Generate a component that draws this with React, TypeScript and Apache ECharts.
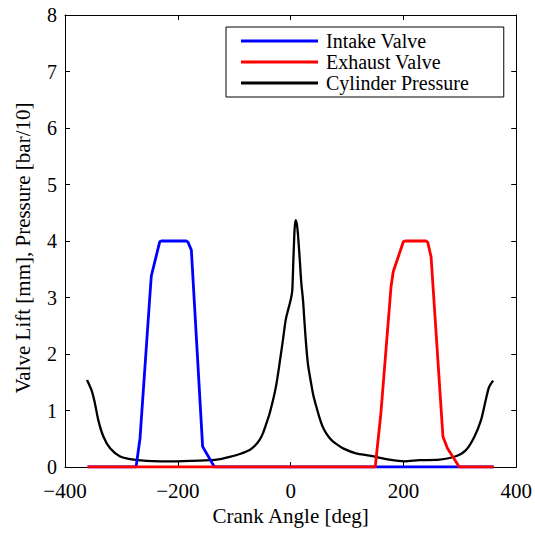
import React, { useEffect, useRef } from "react";
import * as echarts from "echarts";

const intakeAngle = [-360, -274, -267, -250, -247, -232, -229, -185, -182, -176, -156, -135, 360];
const intakeLift = [0, 0, 0.51, 2.96, 3.38, 3.99, 4.0, 4.0, 3.98, 3.84, 0.36, 0, 0];

const exhaustAngle = [-360, 150, 160, 178, 182, 200, 203, 240, 243, 249, 270, 278, 299, 360];
const exhaustLift = [0, 0, 0.95, 3.19, 3.46, 3.99, 4.0, 4.0, 3.98, 3.72, 0.54, 0.33, 0, 0];

const pressureAngle = [
  -361, -353, -347, -341, -332, -320, -303, -285, -255, -202, -143, -125, -108, -90, -72.6, -63, -55, -49,
  -43, -38, -34, -29, -25, -19.5, -13.6, -8.8, -4.5, -1.8, 1.2, 3, 5, 7, 8.8, 11, 13, 16, 19, 22, 25, 28,
  31, 36, 40, 45.5, 51, 57, 64, 72, 82, 93, 116, 140, 175, 202, 228, 264, 293, 311, 326, 337.5, 346, 352,
  359,
];
const pressureValue = [
  1.54, 1.36, 1.13, 0.83, 0.54, 0.33, 0.19, 0.14, 0.11, 0.1, 0.12, 0.14, 0.18, 0.23, 0.3, 0.38, 0.48, 0.6,
  0.77, 0.92, 1.07, 1.28, 1.48, 1.84, 2.25, 2.6, 2.78, 2.88, 3.01, 3.13, 3.7, 4.2, 4.37, 4.3, 4.12, 3.7,
  3.25, 2.95, 2.5, 2.1, 1.8, 1.5, 1.28, 1.07, 0.88, 0.71, 0.58, 0.48, 0.4, 0.33, 0.24, 0.2, 0.13, 0.1,
  0.12, 0.13, 0.19, 0.3, 0.54, 0.83, 1.19, 1.42, 1.53,
];

const seriesNames = ["Intake Valve", "Exhaust Valve", "Cylinder Pressure"];
const xTicks = { min: -400, max: 400, interval: 200 };
const yTicks = { min: 0, max: 8, interval: 1 };

const zip = (a: number[], b: number[]) => a.map((v, i) => [v, b[i]]);
const FONT = "'Liberation Serif', 'DejaVu Serif', serif";
const FS = 21;

export default function App() {
  const ref = useRef<HTMLDivElement>(null);
  useEffect(() => {
    if (!ref.current) return;
    const chart = echarts.init(ref.current, undefined, { renderer: "svg" });
    const axisCommon = {
      axisLine: { show: true, onZero: false, lineStyle: { color: "#000", width: 1 } },
      axisTick: { show: true, inside: true, length: 5, lineStyle: { color: "#000" } },
      splitLine: { show: false },
    };
    chart.setOption({
      animation: false,
      backgroundColor: "#fff",
      textStyle: { fontFamily: FONT },
      grid: { left: 65, right: 18, top: 15, bottom: 66 },
      legend: {
        orient: "vertical",
        left: 226,
        top: 27,
        data: seriesNames,
        borderColor: "#000",
        borderWidth: 1,
        backgroundColor: "#fff",
        padding: [4, 35, 4, 15],
        itemWidth: 77,
        itemHeight: 14,
        itemGap: 1,
        icon: "path://M0,0 L100,0 L100,4 L0,4 Z",
        textStyle: { fontFamily: FONT, fontSize: 20, lineHeight: 20, color: "#000", padding: [0, 0, 0, 3] },
      },
      xAxis: [
        {
          type: "value",
          ...xTicks,
          ...axisCommon,
          name: "Crank Angle [deg]",
          nameLocation: "middle",
          nameGap: 38,
          nameTextStyle: { fontFamily: FONT, fontSize: FS, color: "#000" },
          axisLabel: {
            fontFamily: FONT,
            fontSize: FS,
            color: "#000",
            margin: 13,
            formatter: (v: number) => String(v).replace("-", "\u2212"),
          },
        },
        {
          type: "value",
          position: "top",
          ...xTicks,
          ...axisCommon,
          axisLabel: { show: false },
        },
      ],
      yAxis: [
        {
          type: "value",
          ...yTicks,
          ...axisCommon,
          name: "Valve Lift [mm], Pressure [bar/10]",
          nameLocation: "middle",
          nameGap: 32,
          nameTextStyle: { fontFamily: FONT, fontSize: FS, color: "#000", padding: [0, 14, 0, 0] },
          axisLabel: { fontFamily: FONT, fontSize: 20, color: "#000", margin: 8 },
        },
        {
          type: "value",
          position: "right",
          ...yTicks,
          ...axisCommon,
          axisLabel: { show: false },
        },
      ],
      series: [
        {
          name: seriesNames[0],
          type: "line",
          data: zip(intakeAngle, intakeLift),
          symbol: "none",
          z: 3,
          color: "#0000ff",
          lineStyle: { color: "#0000ff", width: 2.8 },
        },
        {
          name: seriesNames[1],
          type: "line",
          data: zip(exhaustAngle, exhaustLift),
          symbol: "none",
          z: 4,
          color: "#ff0000",
          lineStyle: { color: "#ff0000", width: 2.8 },
        },
        {
          name: seriesNames[2],
          type: "line",
          data: zip(pressureAngle, pressureValue),
          symbol: "none",
          smooth: 0.25,
          z: 2,
          color: "#000",
          lineStyle: { color: "#000", width: 2.3 },
        },
      ],
    });
    return () => chart.dispose();
  }, []);
  return <div ref={ref} style={{ width: 535, height: 533, position: "absolute", left: 0, top: 0 }} />;
}
